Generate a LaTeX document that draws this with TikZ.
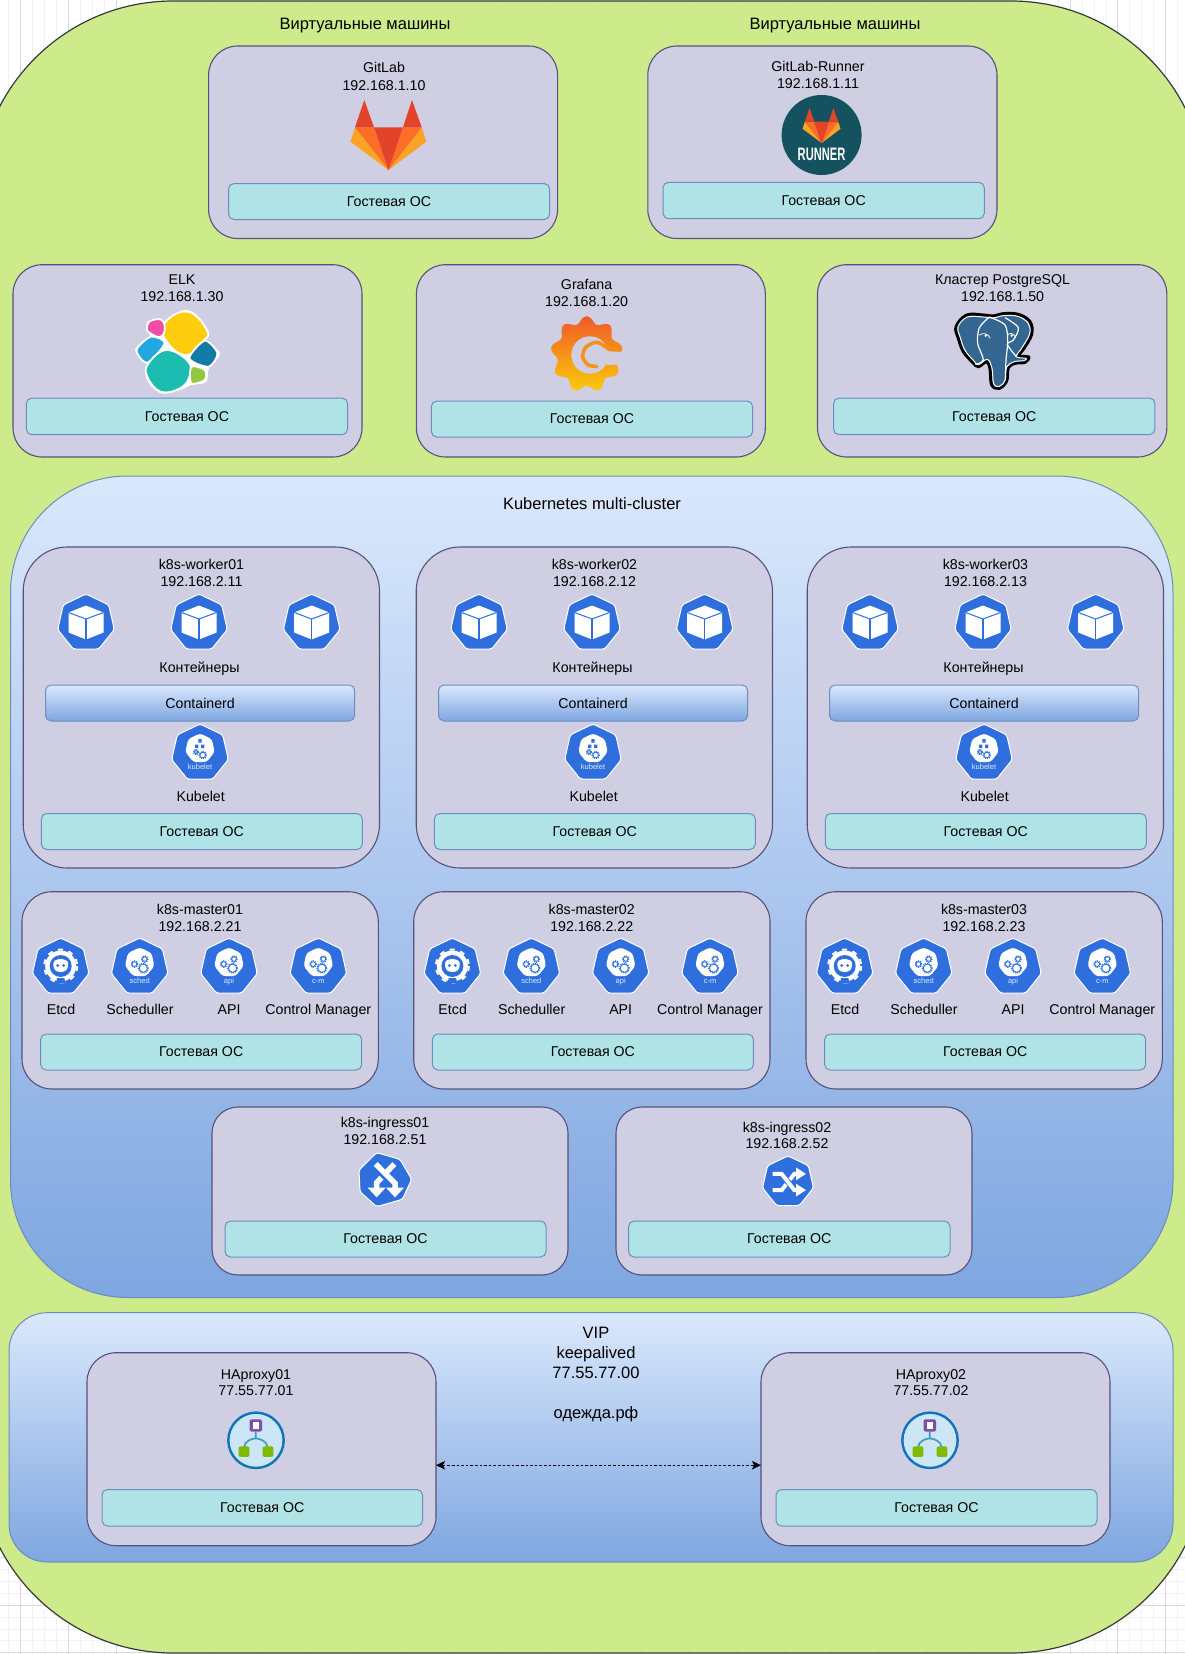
\documentclass[tikz,border=0pt]{standalone}
\usepackage{fontspec}
\setmainfont{Liberation Sans}
\usetikzlibrary{arrows.meta}
\definecolor{kube}{HTML}{2E6FDD}
\definecolor{vmfill}{HTML}{D0CEE2}
\definecolor{vmline}{HTML}{56517E}
\definecolor{osfill}{HTML}{B0E3E6}
\definecolor{blueline}{HTML}{6C8EBF}
\definecolor{gradtop}{HTML}{DAE8FC}
\definecolor{gradbot}{HTML}{7EA6E0}
\definecolor{outerfill}{HTML}{CDEB8B}
\definecolor{outerline}{HTML}{36393D}
\definecolor{fcaouter}{HTML}{FCA326}
\definecolor{fcamid}{HTML}{FC6D26}
\definecolor{fcadark}{HTML}{E24329}
\definecolor{HAring}{HTML}{0F74B8}
\definecolor{HAdisk}{HTML}{CDE6F5}
\definecolor{HAteal}{HTML}{3E9BC4}
\definecolor{HApurple}{HTML}{7F4EA5}
\definecolor{HAgreen}{HTML}{7FBA00}
\definecolor{runnercol}{HTML}{14525F}
\definecolor{elkyellow}{HTML}{FDCD0E}
\definecolor{elkpink}{HTML}{EE4FA5}
\definecolor{elkblue}{HTML}{22A7E0}
\definecolor{elkteal}{HTML}{1CBCB0}
\definecolor{elkdark}{HTML}{127CA6}
\definecolor{elkgreen}{HTML}{93C83E}
\definecolor{grafred}{HTML}{F05A28}
\definecolor{grafyel}{HTML}{FBCA0A}
\definecolor{pgblue}{HTML}{336791}
\tikzset{
  lab/.style={inner sep=0pt,outer sep=0pt,text height=10.1pt,text depth=0pt,font=\fontsize{14.2}{16}\selectfont},
  biglab/.style={inner sep=0pt,outer sep=0pt,text height=11.9pt,text depth=0pt,font=\fontsize{16.5}{19}\selectfont},
  vmbox/.style={draw=vmline,fill=vmfill,line width=1.1pt,rounded corners=29pt,inner sep=0pt,outer sep=0pt},
  wkbox/.style={draw=vmline,fill=vmfill,line width=1.1pt,rounded corners=44pt,inner sep=0pt,outer sep=0pt},
  msbox/.style={draw=vmline,fill=vmfill,line width=1.1pt,rounded corners=30pt,inner sep=0pt,outer sep=0pt},
  osbox/.style={draw=blueline,fill=osfill,line width=1pt,rounded corners=5.5pt,inner sep=0pt,outer sep=0pt,font=\fontsize{14.2}{16}\selectfont},
  ctbox/.style={draw=blueline,top color=gradtop,bottom color=gradbot,line width=1pt,rounded corners=5.5pt,inner sep=0pt,outer sep=0pt,font=\fontsize{14.2}{16}\selectfont},
  zone/.style={draw=blueline,top color=gradtop,bottom color=gradbot,line width=1pt,inner sep=0pt,outer sep=0pt},
  outerzone/.style={draw=outerline,fill=outerfill,line width=1.2pt,rounded corners=195pt,inner sep=0pt,outer sep=0pt},
  hexshape/.style={fill=kube,draw=white,line width=1pt,rounded corners=2.5pt},
  tiny/.style={inner sep=0pt,text=white!85!kube,font=\fontsize{7.5}{8}\selectfont},
  gridminor/.style={draw=black!5,line width=.7pt},
  gridmajor/.style={draw=black!15,line width=.8pt}
}
% box given by its corners
\newcommand{\mybox}[7]{%
  \pgfmathsetmacro\bw{#5-#3}\pgfmathsetmacro\bh{#6-#4}%
  \node[#1,minimum width=\bw pt,minimum height=\bh pt] (#2) at ({(#3+#5)/2},{(#4+#6)/2}) {#7};}
\newcommand{\mylab}[4]{\node[lab] (#1) at (#2,#3) {#4};}
\newcommand{\myos}[5]{\mybox{osbox}{#1}{#2}{#3}{#4}{#5}{Гостевая ОС}}
% heptagon of radius 29 around the origin of the current scope
\newcommand{\myheptpath}{(0,-29) -- (22.7,-18.1) -- (28.3,6.5) -- (12.6,26.1) -- (-12.6,26.1) -- (-28.3,6.5) -- (-22.7,-18.1) -- cycle}
\newcommand{\myhept}{\draw[hexshape] \myheptpath;}
\newcommand{\mycube}[2]{%
  \begin{scope}[shift={(#1,#2)}]
    \myhept
    \fill[white] (0,-17.5)--(17.5,-10.5)--(17.5,9.5)--(0,16.5)--(-17.5,9.5)--(-17.5,-10.5)--cycle;
    \draw[kube,line width=1pt] (-17.5,-10.5)--(0,-4)--(17.5,-10.5);
    \draw[kube,line width=1.4pt] (0,-4)--(0,17);
  \end{scope}}
\newcommand{\mygear}[3]{%
  \draw[kube,line width=1.5pt,dash pattern=on 1pt off 1pt] (#1,#2) circle (#3);
  \draw[kube,line width=.8pt] (#1,#2) circle ({#3-.7});}
\newcommand{\myblob}{\begin{scope}[shift={(0,-4.5)},scale=.52]\fill[white,rounded corners=3pt] \myheptpath;\end{scope}}
\newcommand{\mygears}[3]{% x,y, tiny label
  \begin{scope}[shift={(#1,#2)}]
    \myhept
    \myblob
    \mygear{-5.3}{-2.9}{3.1}\mygear{5}{-8}{3}\mygear{3.6}{1.2}{4.8}
    \node[tiny] at (0,14.3) {#3};
  \end{scope}}
\newcommand{\mykubelet}[2]{%
  \begin{scope}[shift={(#1,#2)}]
    \myhept
    \myblob
    \fill[kube] (-1.7,-14)rectangle(1.7,-10.5) (-5,-8.3)rectangle(-1.6,-4.9) (1,-8.3)rectangle(4.4,-4.9);
    \mygear{-4}{-1}{2.5}\mygear{2.7}{2}{3.5}
    \node[tiny] at (0,14.3) {kubelet};
  \end{scope}}
\newcommand{\myetcd}[2]{%
  \begin{scope}[shift={(#1,#2)}]
    \myhept
    \fill[white] (0,-1) circle (15.5);
    \draw[white,line width=2pt,dash pattern=on 5pt off 5.7pt] (0,-1) circle (16.5);
    \fill[kube] (0,-1) circle (11);
    \fill[white,rounded corners=2.5pt] (-7.5,-6)--(0,-8.5)--(7.5,-6)--(7,2)--(3,5)--(-3,5)--(-7,2)--cycle;
    \fill[kube] (-3,-1.5) circle (1.5) (3,-1.5) circle (1.5);
    \fill[kube] (-3.5,11) -- (3.5,11) -- (5,16) -- (-5,16) -- cycle;
  \end{scope}}
\newcommand{\myfox}{%
  \fill[fcaouter] (355,127.3)--(350.5,141.7)--(388.5,170)--cycle (421.7,127.3)--(426.3,141.7)--(388.5,170)--cycle;
  \fill[fcamid] (355,127.3)--(374,127.3)--(388.5,170)--cycle (421.7,127.3)--(403,127.3)--(388.5,170)--cycle;
  \fill[fcadark] (364.3,100)--(355,127.3)--(374,127.3)--cycle (412,100)--(403,127.3)--(421.7,127.3)--cycle (374,127.3)--(403,127.3)--(388.5,170)--cycle;}
\newcommand{\myhaicon}[2]{%
  \begin{scope}[shift={(#1,#2)},scale=1/3,shift={(-123,-121)}]
    \draw[draw=HAring,fill=HAdisk,line width=2.4pt] (123,121) circle (83);
    \draw[HAteal,line width=1.7pt,rounded corners=5pt] (87,140)--(87,128)--(122,112)--(158,128)--(158,140) (122,95)--(122,112);
    \fill[HApurple,rounded corners=1.5pt] (104,58) rectangle (141,95);
    \fill[white] (113,67) rectangle (132,86);
    \fill[HAgreen,rounded corners=1.5pt] (71,139) rectangle (103,171) (143,139) rectangle (175,171);
  \end{scope}}
\newcommand{\myworker}[4]{% id, dx, name, ip
  \begin{scope}[xshift=#2pt]
    \mybox{wkbox}{#1}{23.2}{547}{379.5}{868}{}
    \mylab{#1t}{201.5}{564}{#3}
    \mylab{#1i}{201.5}{581.5}{#4}
    \mycube{86}{623}\mycube{199}{623}\mycube{311.7}{623}
    \mylab{#1c}{199.5}{667}{Контейнеры}
    \mybox{ctbox}{#1r}{45.5}{685}{354.7}{721}{Containerd}
    \mykubelet{200}{753}
    \mylab{#1k}{200.7}{796}{Kubelet}
    \myos{#1o}{41.3}{813.5}{362.3}{849.5}
  \end{scope}}
\newcommand{\mymaster}[4]{%
  \begin{scope}[xshift=#2pt]
    \mybox{msbox}{#1}{22}{891.7}{378.3}{1089}{}
    \mylab{#1t}{200}{909.3}{#3}
    \mylab{#1i}{200}{926.7}{#4}
    \myetcd{60.7}{967}
    \mygears{139.7}{967}{sched}
    \mygears{229}{967}{api}
    \mygears{318.3}{967}{c-m}
    \mylab{#1a}{61}{1009.3}{Etcd}
    \mylab{#1b}{140}{1009.3}{Scheduller}
    \mylab{#1d}{229}{1009.3}{API}
    \mylab{#1e}{318.3}{1009.3}{Control Manager}
    \myos{#1o}{40.7}{1034}{361.7}{1070}
  \end{scope}}
\begin{document}
\begin{tikzpicture}[x=1pt,y=-1pt]
\useasboundingbox (0,0) rectangle (1185,1654);
\clip (0,0) rectangle (1185,1654);
\fill[white] (0,0) rectangle (1185,1654);
% drawing-board grid
\foreach \k in {-4,...,100}{
  \pgfmathsetmacro\gx{20.7+11.925*\k}
  \pgfmathsetmacro\gy{1652.7-11.925*\k}
  \draw[gridminor] (\gx,0)--(\gx,1654);
  \draw[gridminor] (0,\gy)--(1185,\gy);
}
\foreach \k in {0,...,25}{
  \pgfmathsetmacro\gx{20.7+47.7*\k}
  \pgfmathsetmacro\gy{1652.7-47.7*\k}
  \draw[gridmajor] (\gx,0)--(\gx,1654);
  \draw[gridmajor] (0,\gy)--(1185,\gy);
}
% outer zone
\mybox{outerzone}{vm}{-22}{1}{1206}{1653}{}
\node[biglab] (vmt1) at (365,23.5) {Виртуальные машины};
\node[biglab] (vmt2) at (835,23.5) {Виртуальные машины};
% GitLab
\mybox{vmbox}{gitlab}{208.6}{46}{557.6}{238.5}{}
\mylab{gitlabt}{384}{67}{GitLab}
\mylab{gitlabi}{384}{85}{192.168.1.10}
\myfox
\myos{gitlabo}{228.5}{183.5}{549.6}{219.5}
% Runner
\mybox{vmbox}{runner}{647.8}{46}{997}{238.5}{}
\mylab{runnert}{818}{66}{GitLab-Runner}
\mylab{runneri}{818}{83}{192.168.1.11}
\fill[runnercol] (821.6,135) ellipse (40 and 40);
\begin{scope}[shift={(821.6,125.5)},scale=.5,shift={(-388.5,-135)}]\myfox\end{scope}
\node[inner sep=0pt,text=white,xscale=.62,font=\bfseries\fontsize{18}{20}\selectfont] (runnerlogo) at (821.6,154) {RUNNER};
\myos{runnero}{663}{182.3}{984.3}{218.7}
% ELK
\mybox{vmbox}{elk}{13}{264.7}{362}{457}{}
\mylab{elkt}{182}{279}{ELK}
\mylab{elki}{182}{296}{192.168.1.30}
\begin{scope}[line width=1.8pt,draw=white]
  \fill[white] plot[smooth cycle,tension=.7] coordinates {(187.5,310)(208,330)(204,342)(220,353)(209,368)(206,382)(191,385)(180,390)(160,393)(146,378)(147,364)(135,350)(150,335)(147,322)(165,322)};
  \filldraw[fill=elkyellow] plot[smooth cycle,tension=.8] coordinates {(187.5,311.7)(206.7,330)(202.8,341.7)(184.8,355)(164.6,338.3)(164.6,323)};
  \filldraw[fill=elkpink] plot[smooth cycle,tension=.9] coordinates {(153,320)(163.5,322)(162,336)(150,333)(147,326)};
  \filldraw[fill=elkblue] plot[smooth cycle,tension=.5] coordinates {(151,336.7)(164.6,343.3)(147.3,362.7)(136.6,350)};
  \filldraw[fill=elkteal] plot[smooth cycle,tension=.7] coordinates {(166.5,350)(188.3,361.7)(189.4,376.7)(179.9,388.3)(160.7,391.7)(147.3,376.7)(148.5,363.3)};
  \filldraw[fill=elkdark] plot[smooth cycle,tension=.5] coordinates {(204.7,340.7)(217.4,353.3)(208.6,366.7)(189.4,358.3)};
  \filldraw[fill=elkgreen] plot[smooth cycle,tension=.5] coordinates {(191.4,366.7)(204.7,370)(204.7,380)(191.4,383.3)};
\end{scope}
\myos{elko}{26.4}{398}{347.5}{434.7}
% Grafana
\mybox{vmbox}{grafana}{416.4}{264.7}{765.3}{457}{}
\mylab{grafanat}{586.6}{284}{Grafana}
\mylab{grafanai}{586.6}{301}{192.168.1.20}
\begin{scope}[shift={(540,305)},scale=1/3]
  \shade[top color=grafred,bottom color=grafyel] plot[domain=0:360,samples=181,smooth,variable=\t] ({140+(98+10*cos(9*(\t+90)))*cos(\t)},{148+(104+10*cos(9*(\t+90)))*sin(\t)});
  \fill[vmfill] (150,150) circle (56);
  \fill[vmfill] (195,138) -- (255,142) -- (255,178) -- (200,180) -- cycle;
  \draw[grafred!50!grafyel,line width=3.6pt,line cap=round] plot[smooth] coordinates {(205,132)(172,112)(138,126)(128,156)(145,180)(170,184)};
\end{scope}
\myos{grafanao}{431.3}{401}{752.6}{437}
% PostgreSQL
\mybox{vmbox}{pg}{817.5}{264.7}{1166.8}{457}{}
\mylab{pgt}{1002.6}{279}{Кластер PostgreSQL}
\mylab{pgi}{1002.6}{296}{192.168.1.50}
\begin{scope}[shift={(950,305)},scale=1/3]
  \draw[draw=black,line width=3pt,fill=pgblue] plot[smooth cycle,tension=.6] coordinates {(18,65)(50,30)(100,30)(130,33)(160,26)(205,28)(240,50)(245,88)(222,130)(207,152)(236,156)(225,172)(195,175)(175,188)(170,228)(148,250)(125,240)(120,192)(110,170)(85,185)(68,172)(40,140)(25,100)};
  \draw[white,line width=1pt] plot[smooth cycle,tension=.6] coordinates {(24,65)(52,36)(100,36)(130,39)(160,32)(203,34)(234,54)(239,86)(216,128)(199,155)(228,160)(222,167)(193,170)(170,186)(165,226)(148,244)(131,236)(126,190)(112,163)(85,179)(72,168)(45,136)(31,98)};
  \draw[white,line width=1.2pt] plot[smooth] coordinates {(118,36)(88,68)(83,115)(100,165)(76,178)};
  \draw[white,line width=1.2pt] plot[smooth] coordinates {(118,36)(165,60)(173,110)(168,165)(166,226)};
  \draw[white,line width=1.2pt] plot[smooth] coordinates {(165,38)(205,68)(190,105)(172,118)(199,155)};
  \draw[white,line width=.8pt] (88,90) .. controls (100,82) and (115,85) .. (120,100);
  \draw[white,line width=.8pt] (172,90) .. controls (180,82) and (190,85) .. (196,95);
  \fill[white] (107,92) circle (4) (185,92) circle (4);
\end{scope}
\myos{pgo}{833.6}{398}{1154.9}{434.7}
% Kubernetes zone
\mybox{zone,rounded corners=117pt}{k8s}{10.5}{476}{1173}{1297.5}{}
\node[biglab] (k8st) at (592,503.5) {Kubernetes multi-cluster};
\myworker{wa}{0}{k8s-worker01}{192.168.2.11}
\myworker{wb}{393}{k8s-worker02}{192.168.2.12}
\myworker{wc}{784}{k8s-worker03}{192.168.2.13}
\mymaster{ma}{0}{k8s-master01}{192.168.2.21}
\mymaster{mb}{391.7}{k8s-master02}{192.168.2.22}
\mymaster{mc}{784}{k8s-master03}{192.168.2.23}
% Ingress 1
\mybox{msbox,rounded corners=26pt}{inga}{212}{1107}{568}{1275}{}
\mylab{ingat}{385}{1122}{k8s-ingress01}
\mylab{ingai}{385}{1139}{192.168.2.51}
\begin{scope}[shift={(345,1140)},scale=1/3]
  \draw[hexshape] (95,38)--(165,58)--(200,118)--(172,178)--(95,200)--(45,155)--(42,90)--cycle;
  \draw[white,line width=5.5pt] (148,72)--(95,128)--(95,148);
  \fill[white] (68,143)--(122,143)--(95,172)--cycle;
  \draw[kube,line width=7.5pt] (110,98)--(150,135);
  \draw[white,line width=5.5pt] (92,72)--(150,130)--(150,148);
  \fill[white] (123,143)--(177,143)--(150,172)--cycle;
\end{scope}
\myos{ingao}{225}{1221}{546}{1257}
% Ingress 2
\mybox{msbox,rounded corners=26pt}{ingb}{616}{1107}{972}{1275}{}
\mylab{ingbt}{787}{1127}{k8s-ingress02}
\mylab{ingbi}{787}{1143}{192.168.2.52}
\begin{scope}[shift={(788,1182)},scale=.9]
  \myhept
  \draw[white,line width=4pt] (-17,9)--(-7,9)--(7,-9)--(10,-9);
  \fill[white] (9,-16)--(20,-9)--(9,-2)--cycle;
  \draw[kube,line width=6pt] (-3,-3)--(3,3);
  \draw[white,line width=4pt] (-17,-9)--(-7,-9)--(7,9)--(10,9);
  \fill[white] (9,2)--(20,9)--(9,16)--cycle;
\end{scope}
\myos{ingbo}{628.6}{1221}{950}{1257}
% VIP zone
\mybox{zone,rounded corners=38pt}{vip}{9}{1312.7}{1173}{1562}{}
\node[biglab] (vipa) at (596,1333) {VIP};
\node[biglab] (vipb) at (596,1352.5) {keepalived};
\node[biglab] (vipc) at (596,1373) {77.55.77.00};
\node[biglab] (vipd) at (596,1413) {одежда.рф};
\mybox{vmbox}{haa}{87}{1352.7}{436}{1545.7}{}
\mylab{haat}{256}{1374}{HAproxy01}
\mylab{haai}{256}{1390.5}{77.55.77.01}
\myhaicon{256}{1440.3}
\myos{haao}{102}{1489.5}{422.5}{1526}
\mybox{vmbox}{hab}{761}{1352.7}{1110}{1545.7}{}
\mylab{habt}{931}{1374}{HAproxy02}
\mylab{habi}{931}{1390.5}{77.55.77.02}
\myhaicon{930}{1440.3}
\myos{habo}{776}{1489.5}{1097}{1526}
\draw[{Stealth[length=9pt,width=8.5pt,inset=2pt]}-{Stealth[length=9pt,width=8.5pt,inset=2pt]},black,line width=1pt,dash pattern=on 2.6pt off 2pt] ([yshift=-16pt]haa.east) -- ([yshift=-16pt]hab.west);
\end{tikzpicture}
\end{document}
